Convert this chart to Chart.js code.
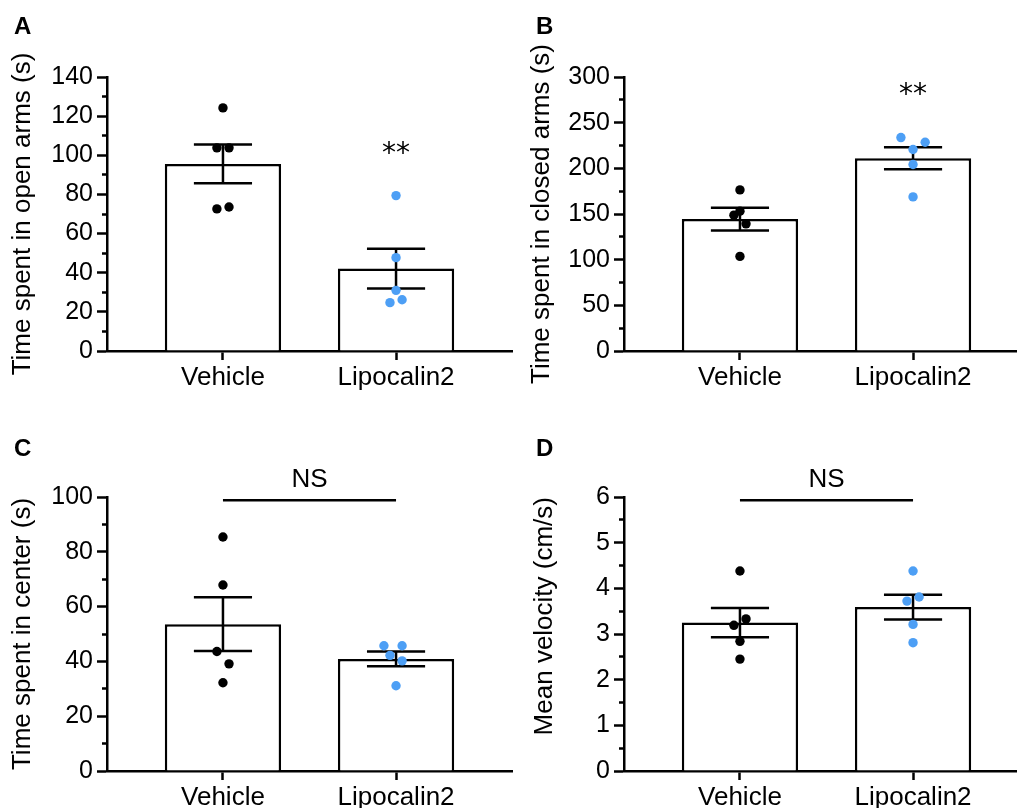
<!DOCTYPE html>
<html>
<head>
<meta charset="utf-8">
<script src="https://cdn.jsdelivr.net/npm/chart.js@4/dist/chart.umd.min.js"></script>
<style>
  html, body { margin: 0; padding: 0; background: #fff; overflow: hidden; width: 1017px; height: 808px; }
  canvas { position: absolute; }
</style>
</head>
<body>
<canvas id="cA" width="520" height="400" style="left:0px;top:0px"></canvas>
<canvas id="cB" width="520" height="400" style="left:517px;top:0px"></canvas>
<canvas id="cC" width="520" height="388" style="left:0px;top:420px"></canvas>
<canvas id="cD" width="520" height="388" style="left:517px;top:420px"></canvas>
<script>
// ---------- data ----------
const categories = ['Vehicle', 'Lipocalin2'];

// A: time in open arms (s)
const openArmsMean = [95.6, 42.1];
const openArmsSem = [9.85, 10.15];
const openArmsVehicle = [124.2, 103.8, 103.8, 72.6, 73.6];
const openArmsLipocalin = [79.4, 47.7, 31.0, 24.7, 26.2];

// B: time in closed arms (s)
const closedArmsMean = [144.4, 211.1];
const closedArmsSem = [12.4, 12.0];
const closedArmsVehicle = [176.4, 153.1, 148.7, 139.2, 103.6];
const closedArmsLipocalin = [233.7, 228.6, 220.6, 204.2, 168.7];

// C: time in center (s)
const centerMean = [53.6, 40.9];
const centerSem = [9.8, 2.7];
const centerVehicle = [85.4, 67.9, 43.6, 39.1, 32.2];
const centerLipocalin = [45.7, 45.7, 42.2, 40.2, 31.1];

// D: mean velocity (cm/s)
const velocityMean = [3.25, 3.59];
const velocitySem = [0.32, 0.27];
const velocityVehicle = [4.38, 3.33, 3.19, 2.84, 2.45];
const velocityLipocalin = [4.38, 3.81, 3.72, 3.21, 2.81];

// y-axis tick settings (min, max, major step)
const yTicksA = [0, 140, 20];
const yTicksB = [0, 300, 50];
const yTicksC = [0, 100, 20];
const yTicksD = [0, 6, 1];

// significance annotations
const sigA = {text: '**', type: 'star', at: 103.7};
const sigB = {text: '**', type: 'star', at: 287.3};
const sigC = {text: 'NS', type: 'bracket', line: 98.8, at: 106.9};
const sigD = {text: 'NS', type: 'bracket', line: 5.93, at: 6.415};

// ---------- layout (point jitter in category units) ----------
const jitA = [[0, -0.035, 0.035, -0.035, 0.035], [0, 0, 0, -0.035, 0.035]];
const jitB = [[0, 0, -0.035, 0.035, 0], [-0.07, 0.07, 0, 0, 0]];
const jitC = [[0, 0, -0.035, 0.035, 0], [-0.07, 0.035, -0.035, 0.035, 0]];
const jitD = [[0, 0.035, -0.035, 0, 0], [0, 0.035, -0.035, 0, 0]];

const FONT = "'Liberation Sans', Arial, Helvetica, sans-serif";
const BLUE = '#4d9ff5';
const LW = 2.5;

const panelPlugin = {
  id: 'panelExtras',
  afterDatasetDraw(chart, args, opts) {
    if (args.meta.type !== 'bar') return;
    const ctx = chart.ctx, xs = chart.scales.x, ys = chart.scales.y;
    ctx.save();
    ctx.strokeStyle = '#000';
    ctx.lineWidth = LW;
    opts.mean.forEach((m, i) => {
      const x = xs.getPixelForValue(i);
      const xl = xs.getPixelForValue(i - opts.cap), xr = xs.getPixelForValue(i + opts.cap);
      const yt = ys.getPixelForValue(m + opts.sem[i]);
      const yb = ys.getPixelForValue(m - opts.sem[i]);
      ctx.beginPath();
      ctx.moveTo(x, yt); ctx.lineTo(x, yb);
      ctx.moveTo(xl, yt); ctx.lineTo(xr, yt);
      ctx.moveTo(xl, yb); ctx.lineTo(xr, yb);
      ctx.stroke();
    });
    ctx.restore();
  },
  afterDraw(chart, args, opts) {
    const ctx = chart.ctx, xs = chart.scales.x, ys = chart.scales.y;
    ctx.save();
    ctx.fillStyle = '#000';
    ctx.strokeStyle = '#000';
    ctx.font = 'bold 24px ' + FONT;
    ctx.textBaseline = 'alphabetic';
    ctx.textAlign = 'left';
    ctx.fillText(opts.letter, opts.letterPos[0], opts.letterPos[1]);
    const s = opts.sig;
    let cx;
    if (s.type === 'star') {
      cx = xs.getPixelForValue(1);
      ctx.font = "28px 'DejaVu Sans', sans-serif";
    } else {
      const x0 = xs.getPixelForValue(0), x1 = xs.getPixelForValue(1);
      const yl = ys.getPixelForValue(s.line);
      ctx.lineWidth = LW;
      ctx.beginPath(); ctx.moveTo(x0, yl); ctx.lineTo(x1, yl); ctx.stroke();
      cx = (x0 + x1) / 2;
      ctx.font = '26px ' + FONT;
    }
    const m = ctx.measureText(s.text);
    const cy = ys.getPixelForValue(s.at);
    const gh = m.actualBoundingBoxAscent + m.actualBoundingBoxDescent;
    const baseY = cy + gh / 2 - m.actualBoundingBoxDescent;
    ctx.textAlign = 'center';
    ctx.fillText(s.text, cx, baseY);
    ctx.restore();
  }
};

function makeChart(id, mean, sem, vehPts, lipPts, jit, yTicks, title, titlePad, titleAlign, sig, letter, letterPos) {
  const canvas = document.getElementById(id);
  const H = canvas.height;
  const [ymin, ymax, major] = yTicks;
  const isMinor = (v) => Math.abs(v / major - Math.round(v / major)) > 1e-6;
  new Chart(canvas, {
    type: 'bar',
    data: {
      datasets: [
        {
          type: 'bar',
          order: 2,
          data: mean.map((m, i) => ({x: i, y: m})),
          backgroundColor: '#ffffff',
          borderColor: '#000000',
          borderWidth: LW,
          borderSkipped: 'start',
          categoryPercentage: 1,
          barPercentage: 0.672
        },
        {
          type: 'scatter',
          order: 1,
          data: vehPts.map((v, k) => ({x: 0 + jit[0][k], y: v})),
          backgroundColor: '#000000',
          borderWidth: 0,
          pointRadius: 4.7,
          showLine: false
        },
        {
          type: 'scatter',
          order: 1,
          data: lipPts.map((v, k) => ({x: 1 + jit[1][k], y: v})),
          backgroundColor: BLUE,
          borderWidth: 0,
          pointRadius: 4.7,
          showLine: false
        }
      ]
    },
    options: {
      responsive: false,
      animation: false,
      devicePixelRatio: 1,
      layout: {padding: {left: 0, top: 77, right: 8, bottom: 0}},
      plugins: {
        legend: {display: false},
        tooltip: {enabled: false},
        panelExtras: {mean, sem, cap: 0.168, sig, letter, letterPos}
      },
      scales: {
        x: {
          type: 'linear',
          offset: false,
          min: -0.67,
          max: 1.67,
          afterBuildTicks: (s) => { s.ticks = categories.map((c, i) => ({value: i})); },
          afterFit: (s) => { s.height = H - 351; },
          ticks: {
            callback: (v, i) => categories[i],
            autoSkip: false,
            maxRotation: 0,
            padding: 2,
            color: '#000',
            font: {family: FONT, size: 26}
          },
          grid: {offset: false, drawOnChartArea: false, tickLength: 9, tickWidth: LW, tickColor: '#000'},
          border: {color: '#000', width: LW}
        },
        y: {
          type: 'linear',
          min: ymin,
          max: ymax,
          afterFit: (s) => { s.width = 107; },
          ticks: {
            stepSize: major / 2,
            autoSkip: false,
            padding: 4,
            color: '#000',
            font: {family: FONT, size: 25},
            callback: (v) => isMinor(v) ? '' : String(v)
          },
          grid: {
            drawOnChartArea: false,
            tickLength: 10,
            tickWidth: LW,
            tickColor: '#000',
            tickBorderDash: (c) => (c.tick && isMinor(c.tick.value)) ? [5, 5] : [],
            tickBorderDashOffset: (c) => (c.tick && isMinor(c.tick.value)) ? 5 : 0
          },
          border: {color: '#000', width: LW},
          title: {
            display: true,
            text: title,
            color: '#000',
            align: titleAlign,
            font: {family: FONT, size: 26},
            padding: {top: titlePad, bottom: 0}
          }
        }
      }
    },
    plugins: [panelPlugin]
  });
}

makeChart('cA', openArmsMean, openArmsSem, openArmsVehicle, openArmsLipocalin, jitA, yTicksA,
  'Time spent in open arms (s)', 7, 'center', sigA, 'A', [14, 34]);
makeChart('cB', closedArmsMean, closedArmsSem, closedArmsVehicle, closedArmsLipocalin, jitB, yTicksB,
  'Time spent in closed arms (s)', 9, 'center', sigB, 'B', [19, 34]);
makeChart('cC', centerMean, centerSem, centerVehicle, centerLipocalin, jitC, yTicksC,
  'Time spent in center (s)', 7, 'center', sigC, 'C', [14, 36]);
makeChart('cD', velocityMean, velocitySem, velocityVehicle, velocityLipocalin, jitD, yTicksD,
  'Mean velocity (cm/s)', 12, 'end', sigD, 'D', [19, 36]);
</script>
</body>
</html>
